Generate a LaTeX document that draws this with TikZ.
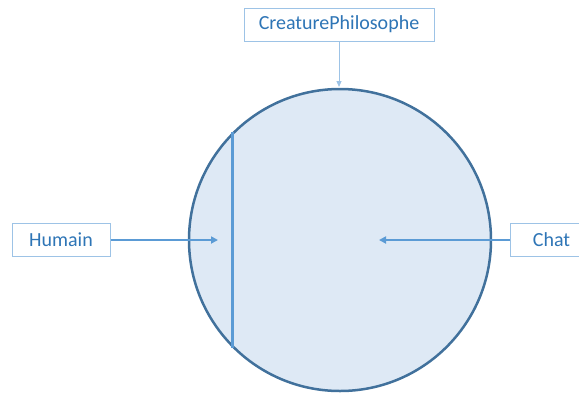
\documentclass[tikz,border=0pt]{standalone}
\usepackage{fontspec}
\setmainfont{Carlito}
\usetikzlibrary{arrows.meta}
\definecolor{boxline}{HTML}{9DC3E6}
\definecolor{txt}{HTML}{2E75B6}
\definecolor{circfill}{HTML}{DEE9F5}
\definecolor{circline}{HTML}{41719C}
\definecolor{arrline}{HTML}{5B9BD5}
\tikzset{
  labelbox/.style={draw=boxline, line width=1pt, fill=white, text=txt, font=\fontsize{20}{22}\selectfont, inner sep=0pt, minimum height=33pt},
  conn/.style={draw=arrline, line width=2.2pt, -{Triangle[length=7pt,width=7pt]}},
  thinconn/.style={draw=boxline, line width=1pt, -{Triangle[length=6pt,width=5pt]}}
}
\begin{document}
\begin{tikzpicture}[x=1pt,y=-1pt]
\useasboundingbox (0,0) rectangle (579,392);
\node[circle, draw=circline, line width=2.5pt, fill=circfill, minimum size=302pt, inner sep=0pt] (c) at (340,240) {};
\draw[arrline, line width=2.5pt] (c.135) -- (c.225);
\node[labelbox, minimum width=190pt] (cp) at (339,24.5) {CreaturePhilosophe};
\node[labelbox, minimum width=98pt] (hu) at (61,240) {Humain};
\node[labelbox, minimum width=100pt, anchor=west] (ch) at (510,240) {\hspace*{-18pt}Chat};
\coordinate (hend) at (218,240);
\coordinate (cend) at (379,240);
\coordinate (tend) at (339,87);
\draw[thinconn] (cp.south) -- (tend);
\draw[conn] (hu.east) -- (hend);
\draw[conn] (ch.west) -- (cend);
\end{tikzpicture}
\end{document}
